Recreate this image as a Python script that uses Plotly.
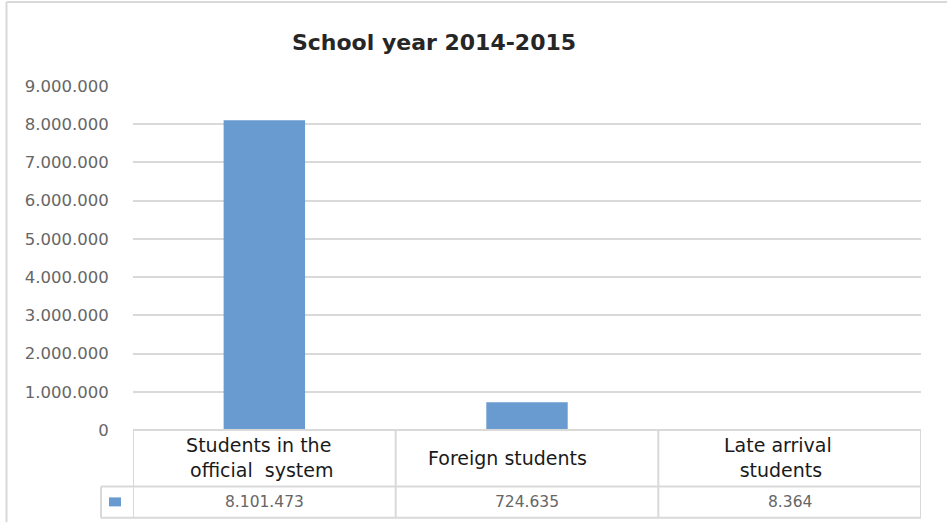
import plotly.graph_objects as go

# ---- data ----
categories = ["Students in the official system", "Foreign students", "Late arrival students"]
category_labels = ["Students in the<br> official  system", "Foreign students", "Late arrival<br> students"]
values = [8101473, 724635, 8364]
y_ticks = [0, 1000000, 2000000, 3000000, 4000000, 5000000, 6000000, 7000000, 8000000, 9000000]
title_text = "School year 2014-2015"

# ---- layout geometry (pixels) ----
W, H = 947, 523
L, R = 133, 921
T, B = 86, 430.5
PW, PH = R - L, B - T

def px(xp):
    return (xp - L) / PW

def py(yp):
    return (B - yp) / PH

def fmt(v):
    return f"{v:,}".replace(",", ".")

BAR = "#6A9BD0"
GRID = "#D9D9D9"
TXT = "#666666"
FONT = "DejaVu Sans"

fig = go.Figure()
fig.add_trace(go.Bar(x=categories, y=values, marker=dict(color=BAR, line=dict(width=0)),
                     width=0.31, showlegend=False, hoverinfo="x+y"))

shapes = []
line = dict(color=GRID, width=2)
row1 = py(487)
row2 = py(518.5)
# horizontal table lines
shapes.append(dict(type="line", xref="paper", yref="paper", x0=0, x1=1, y0=0, y1=0, line=line))
shapes.append(dict(type="line", xref="paper", yref="paper", x0=px(101), x1=1, y0=row1, y1=row1, line=line))
shapes.append(dict(type="line", xref="paper", yref="paper", x0=px(101), x1=1, y0=row2, y1=row2, line=line))
# vertical table lines at category boundaries
for i in range(len(categories) + 1):
    shapes.append(dict(type="line", xref="x", yref="paper", x0=i - 0.5, x1=i - 0.5,
                       y0=0, y1=row2, line=line))
shapes.append(dict(type="line", xref="paper", yref="paper", x0=px(101), x1=px(101),
                   y0=row1, y1=row2, line=line))
# legend key
shapes.append(dict(type="rect", xref="paper", yref="paper", x0=px(109), x1=px(121),
                   y0=py(498), y1=py(507), fillcolor=BAR, line=dict(width=0)))
# outer chart border (left and top)
shapes.append(dict(type="line", xref="paper", yref="paper", x0=px(6.5), x1=px(6.5),
                   y0=py(2), y1=py(523), line=line))
shapes.append(dict(type="line", xref="paper", yref="paper", x0=px(6.5), x1=px(947),
                   y0=py(2), y1=py(2), line=line))

annotations = []
label_shift = [-6, -20, -12]
for i, (lab, v) in enumerate(zip(category_labels, values)):
    annotations.append(dict(x=i, xref="x", y=py(458.5), yref="paper", text=lab,
                            showarrow=False, xshift=label_shift[i],
                            font=dict(family=FONT, size=19, color="#1A1A1A"),
                            align="center", yanchor="middle"))
    annotations.append(dict(x=i, xref="x", y=py(503), yref="paper", text=fmt(v),
                            showarrow=False, font=dict(family=FONT, size=15.5, color=TXT),
                            yanchor="middle"))

fig.update_layout(
    width=W, height=H,
    margin=dict(l=L, r=W - R, t=T, b=H - B, pad=0),
    paper_bgcolor="white", plot_bgcolor="white",
    separators=",.",
    title=dict(text="<b>" + title_text + "</b>", x=(434) / W, xanchor="center",
               y=1 - 42 / H, yanchor="middle",
               font=dict(family=FONT, size=22, color="#262626")),
    xaxis=dict(showticklabels=False, showgrid=False, zeroline=False, showline=False,
               range=[-0.5, len(categories) - 0.5]),
    yaxis=dict(range=[0, 9000000], tickvals=y_ticks, ticktext=[fmt(t) for t in y_ticks],
               showgrid=True, gridcolor=GRID, gridwidth=2, zeroline=False, showline=False,
               ticks="outside", ticklen=20, tickcolor="rgba(0,0,0,0)",
               tickfont=dict(family=FONT, size=16.5, color=TXT)),
    shapes=shapes,
    annotations=annotations,
    bargap=0.69,
)

fig.write_html("out.html")
